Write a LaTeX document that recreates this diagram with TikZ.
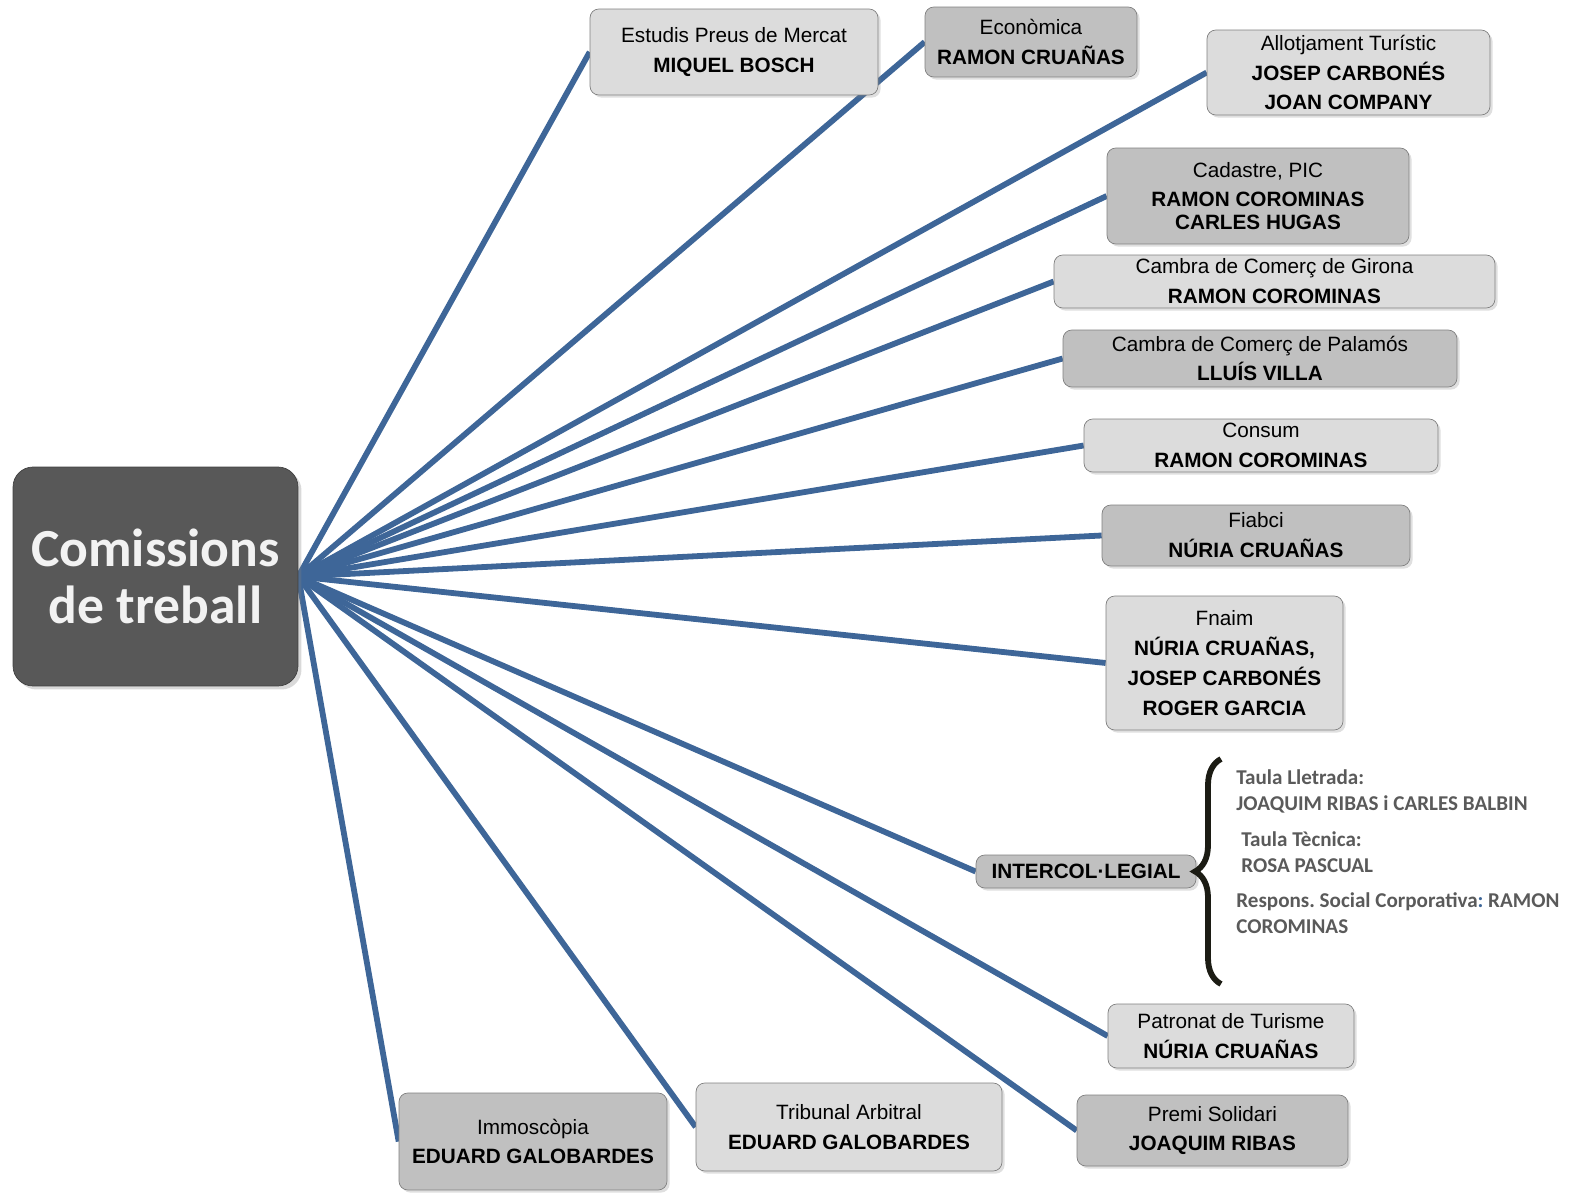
\documentclass[tikz,border=0pt]{standalone}
\usepackage{fontspec}
\setmainfont{Liberation Sans}
\newfontfamily\calibri{Carlito}
\usetikzlibrary{shadows,backgrounds,decorations.pathreplacing}

\definecolor{spokeblue}{HTML}{3E6698}
\definecolor{lightfill}{HTML}{DCDCDC}
\definecolor{darkfill}{HTML}{C0C0C0}
\definecolor{hubgray}{HTML}{585858}
\definecolor{sidegray}{HTML}{5A5A5A}
\definecolor{braceblack}{HTML}{1C1C14}

\tikzset{
  box/.style={draw=black!50, rounded corners=5pt, align=center, inner sep=0pt,
    font=\fontsize{11.8}{17}\selectfont,
    drop shadow={shadow xshift=1.5pt, shadow yshift=-1.5pt, opacity=0.25}},
  lightbox/.style={box, fill=lightfill},
  darkbox/.style={box, fill=darkfill},
  hubbox/.style={draw=black!75, fill=hubgray, rounded corners=0.4cm, align=center,
    text=white!95!black, font=\calibri\bfseries\fontsize{30.5}{32}\selectfont,
    minimum width=5.7cm, minimum height=4.38cm, inner sep=0pt,
    drop shadow={shadow xshift=2pt, shadow yshift=-2pt, opacity=0.3}},
  sidetext/.style={anchor=west, align=left, inner sep=0pt, text=sidegray,
    font=\calibri\bfseries\frenchspacing\fontsize{12}{14.5}\selectfont},
  spoke/.style={draw=spokeblue, line width=3.3pt},
}

\begin{document}
\begin{tikzpicture}[x=0.02cm, y=-0.02cm]
    \useasboundingbox (0,0) rectangle (1570,1193);

    \node[hubbox] (hub) at (155.5,576.5) {Comissions\\de treball};

    \node[lightbox, minimum width=5.76cm, minimum height=1.72cm] (preus) at (734,52)
      {Estudis Preus de Mercat\\\textbf{MIQUEL BOSCH}};
    \node[darkbox, minimum width=4.24cm, minimum height=1.40cm] (economica) at (1031,42)
      {Econòmica\\\textbf{RAMON CRUAÑAS}};
    \node[lightbox, minimum width=5.66cm, minimum height=1.70cm] (allotjament) at (1348.5,72.5)
      {Allotjament Turístic\\\textbf{JOSEP CARBONÉS}\\\textbf{JOAN COMPANY}};
    \node[darkbox, minimum width=6.04cm, minimum height=1.92cm] (cadastre) at (1258,196)
      {Cadastre, PIC\\\textbf{RAMON COROMINAS}\\[-4pt]\textbf{CARLES HUGAS}};
    \node[lightbox, minimum width=8.82cm, minimum height=1.06cm] (girona) at (1274.5,281.5)
      {Cambra de Comerç de Girona\\\textbf{RAMON COROMINAS}};
    \node[darkbox, minimum width=7.88cm, minimum height=1.14cm] (palamos) at (1260,358.5)
      {Cambra de Comerç de Palamós\\\textbf{LLUÍS VILLA}};
    \node[lightbox, minimum width=7.08cm, minimum height=1.06cm] (consum) at (1261,445.5)
      {Consum\\\textbf{RAMON COROMINAS}};
    \node[darkbox, minimum width=6.16cm, minimum height=1.22cm] (fiabci) at (1256,535.5)
      {Fiabci\\\textbf{NÚRIA CRUAÑAS}};
    \node[lightbox, minimum width=4.74cm, minimum height=2.68cm] (fnaim) at (1224.5,663)
      {Fnaim\\\textbf{NÚRIA CRUAÑAS,}\\\textbf{JOSEP CARBONÉS}\\\textbf{ROGER GARCIA}};
    \node[darkbox, minimum width=4.40cm, minimum height=0.66cm] (intercol) at (1086,871.5)
      {\textbf{INTERCOL·LEGIAL}};
    \node[lightbox, minimum width=4.92cm, minimum height=1.28cm] (patronat) at (1231,1036)
      {Patronat de Turisme\\\textbf{NÚRIA CRUAÑAS}};
    \node[darkbox, minimum width=5.42cm, minimum height=1.42cm] (premi) at (1212.5,1130.5)
      {Premi Solidari\\\textbf{JOAQUIM RIBAS}};
    \node[lightbox, minimum width=6.12cm, minimum height=1.76cm] (tribunal) at (849,1127)
      {Tribunal Arbitral\\\textbf{EDUARD GALOBARDES}};
    \node[darkbox, minimum width=5.36cm, minimum height=1.94cm] (immoscopia) at (533,1141.5)
      {Immoscòpia\\\textbf{EDUARD GALOBARDES}};

    % spokes from the hub
    \begin{scope}[on background layer]
      \draw[spoke] (hub.east) -- (preus.west);
      \draw[spoke] (hub.east) -- (economica.west);
      \draw[spoke] (hub.east) -- (allotjament.west);
      \draw[spoke] (hub.east) -- (cadastre.west);
      \draw[spoke] (hub.east) -- (girona.west);
      \draw[spoke] (hub.east) -- (palamos.west);
      \draw[spoke] (hub.east) -- (consum.west);
      \draw[spoke] (hub.east) -- (fiabci.west);
      \draw[spoke] (hub.east) -- (fnaim.west);
      \draw[spoke] (hub.east) -- (intercol.west);
      \draw[spoke] (hub.east) -- (patronat.west);
      \draw[spoke] (hub.east) -- (premi.west);
      \draw[spoke] (hub.east) -- (tribunal.west);
      \draw[spoke] (hub.east) -- (immoscopia.west);
    \end{scope}

    % intercol-legial tables
    \coordinate (bracetop) at (1221,759);
    \coordinate (bracebot) at (1221,984);
    \draw[decorate, decoration={brace, amplitude=0.52cm}, draw=braceblack, line width=3.3pt]
      (bracebot) -- (bracetop);
    \node[sidetext] (lletrada) at (1236,791.5) {Taula Lletrada:\\JOAQUIM RIBAS i CARLES BALBIN};
    \node[sidetext] (tecnica) at (1241,852) {Taula Tècnica:\\ROSA PASCUAL};
    \node[sidetext] (social) at (1236,913)
      {Respons. Social Corporativa\textcolor{spokeblue}{:} RAMON\\COROMINAS};
\end{tikzpicture}
\end{document}
